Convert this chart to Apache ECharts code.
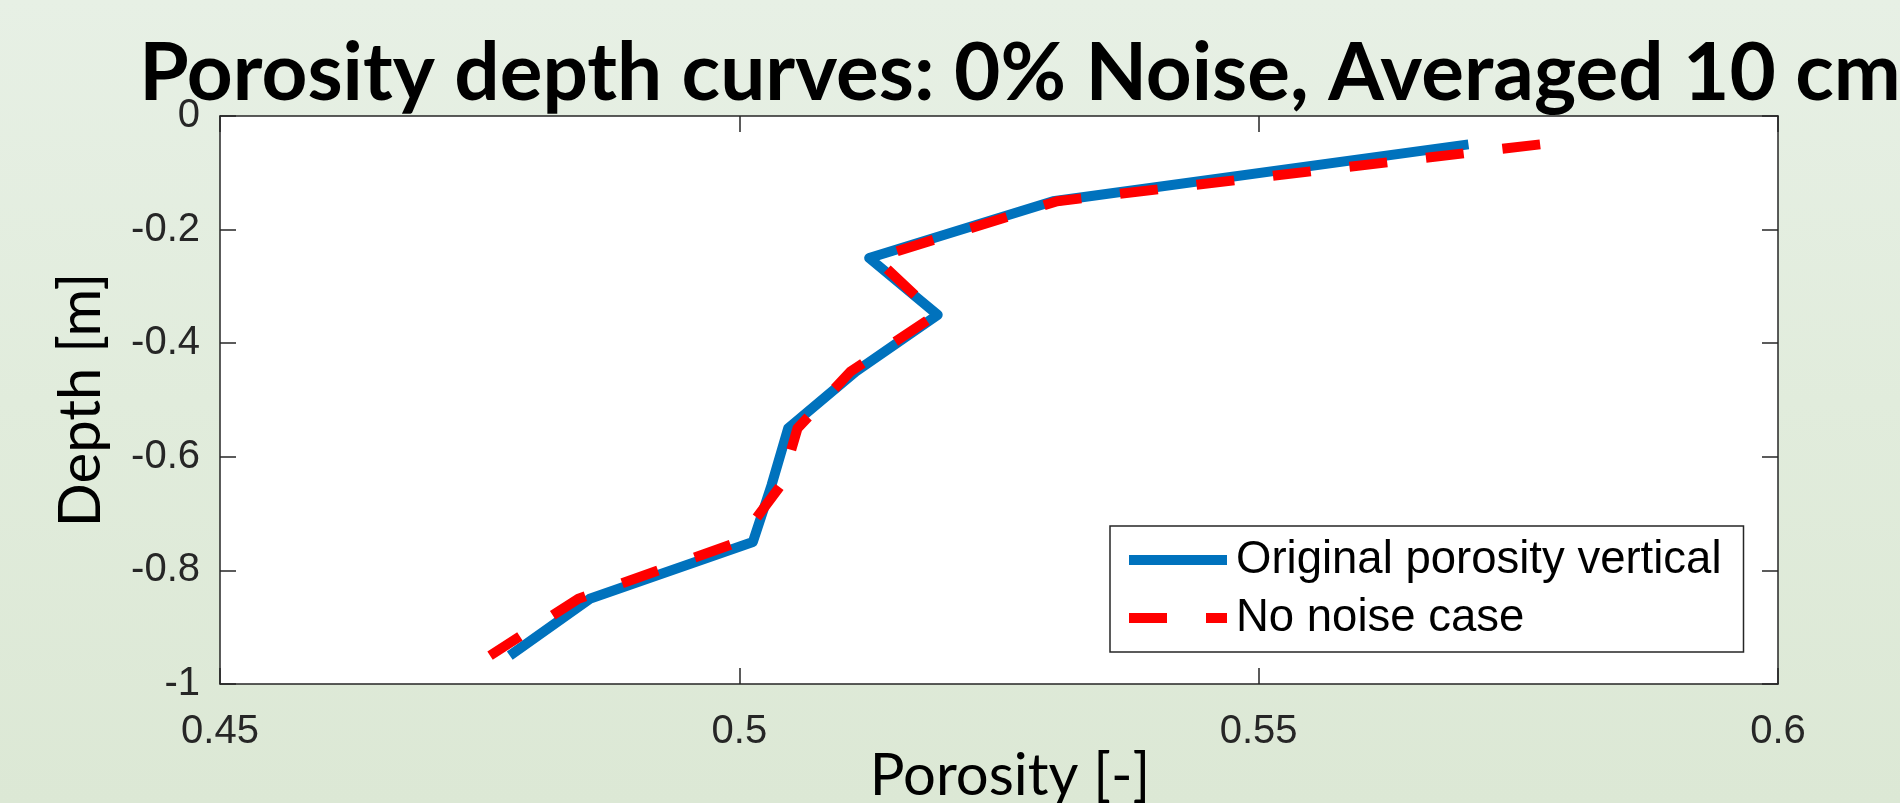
<!DOCTYPE html>
<html>
<head>
<meta charset="utf-8">
<script src="https://cdn.jsdelivr.net/npm/echarts@6/dist/echarts.min.js"></script>
<style>
  html, body { margin: 0; padding: 0; width: 1900px; height: 803px; overflow: hidden;
    background: linear-gradient(to bottom, #e7f0e5 0%, #e1ecdc 50%, #dce8d5 100%); }
  #chart { width: 1900px; height: 803px; }
</style>
</head>
<body>
<div id="chart"></div>
<script>
// ---- Data ----
const titleText = 'Porosity depth curves: 0% Noise, Averaged 10 cm';
const seriesNames = ['Original porosity vertical', 'No noise case'];
const depth = [-0.05, -0.15, -0.25, -0.35, -0.45, -0.55, -0.65, -0.75, -0.85, -0.95];
const originalPorosity = [0.5702, 0.5302, 0.5125, 0.5191, 0.5112, 0.5047, 0.5031, 0.5013, 0.4856, 0.4779];
const noNoisePorosity = [0.5771, 0.5306, 0.5131, 0.5189, 0.5107, 0.5056, 0.5040, 0.4999, 0.4845, 0.4760];
const xTicks = { min: 0.45, max: 0.6, interval: 0.05 };
const yTicks = { min: -1, max: 0, interval: 0.2 };
const xName = 'Porosity [-]';
const yName = 'Depth [m]';

const toPairs = (xs, ys) => xs.map((x, i) => [x, ys[i]]);

const axisColor = '#262626';
const tickFont = 'Liberation Sans, Arial, Helvetica, sans-serif';
const nameFont = 'Lato, Open Sans, sans-serif';
const blue = '#0072BD';
const red = '#FF0000';
const lw = 10;
const dash = [38, 39];

const chart = echarts.init(document.getElementById('chart'), null, { renderer: 'canvas' });

const baseX = {
  type: 'value', min: xTicks.min, max: xTicks.max, interval: xTicks.interval,
  axisLine: { show: true, onZero: false, lineStyle: { color: axisColor, width: 1.5 } },
  axisTick: { show: true, inside: true, length: 16, lineStyle: { color: axisColor, width: 1.5 } },
  splitLine: { show: false }
};
const baseY = {
  type: 'value', min: yTicks.min, max: yTicks.max, interval: yTicks.interval,
  axisLine: { show: true, onZero: false, lineStyle: { color: axisColor, width: 1.5 } },
  axisTick: { show: true, inside: true, length: 16, lineStyle: { color: axisColor, width: 1.5 } },
  splitLine: { show: false }
};

chart.setOption({
  backgroundColor: 'transparent',
  animation: false,
  title: {
    text: titleText,
    left: 1015,
    textAlign: 'center',
    top: 29,
    textStyle: { fontFamily: nameFont, fontWeight: 'bold', fontSize: 80, color: '#000', lineHeight: 80 }
  },
  grid: {
    left: 220, right: 122, top: 116, bottom: 119,
    show: true, backgroundColor: '#ffffff', borderWidth: 0,
    containLabel: false, outerBoundsMode: 'none'
  },
  legend: {
    orient: 'vertical',
    left: 1110, top: 526,
    padding: [5, 22, 5, 14],
    itemGap: 0,
    itemWidth: 98, itemHeight: 14,
    backgroundColor: '#ffffff',
    borderColor: axisColor, borderWidth: 1.5, borderRadius: 0,
    textStyle: { fontFamily: tickFont, fontSize: 45.5, color: '#000', lineHeight: 58, padding: [0, 0, 0, 4] },
    itemStyle: { color: 'rgba(0,0,0,0)', borderWidth: 0, opacity: 0 },
    lineStyle: { width: lw, cap: 'butt' },
    data: [
      { name: seriesNames[0], itemStyle: { color: 'rgba(0,0,0,0)', borderWidth: 0, opacity: 0 },
        lineStyle: { color: blue, width: lw, type: 'solid', cap: 'butt' } },
      { name: seriesNames[1], itemStyle: { color: 'rgba(0,0,0,0)', borderWidth: 0, opacity: 0 },
        lineStyle: { color: red, width: lw, type: dash, cap: 'butt' } }
    ]
  },
  xAxis: [
    Object.assign({}, baseX, {
      position: 'bottom',
      axisLabel: { show: true, fontFamily: tickFont, fontSize: 40, color: axisColor, margin: 28 },
      name: xName, nameLocation: 'middle', nameGap: 63, nameMoveOverlap: false,
      nameTextStyle: { fontFamily: nameFont, fontSize: 58, lineHeight: 58, color: '#000', padding: [0, 0, 0, 22] }
    }),
    Object.assign({}, baseX, { position: 'top', axisLabel: { show: false } })
  ],
  yAxis: [
    Object.assign({}, baseY, {
      position: 'left',
      axisLabel: { show: true, fontFamily: tickFont, fontSize: 40, color: axisColor, margin: 20 },
      name: yName, nameLocation: 'middle', nameGap: 110, nameRotate: 90, nameMoveOverlap: false,
      nameTextStyle: { fontFamily: nameFont, fontSize: 58, lineHeight: 58, color: '#000' }
    }),
    Object.assign({}, baseY, { position: 'right', axisLabel: { show: false } })
  ],
  series: [
    {
      name: seriesNames[0], type: 'line', xAxisIndex: 0, yAxisIndex: 0,
      data: toPairs(originalPorosity, depth),
      symbol: 'none', showSymbol: false, smooth: false, z: 2,
      lineStyle: { color: blue, width: lw, type: 'solid', join: 'round', cap: 'butt' },
      itemStyle: { color: blue }
    },
    {
      name: seriesNames[1], type: 'line', xAxisIndex: 0, yAxisIndex: 0,
      data: toPairs(noNoisePorosity, depth),
      symbol: 'none', showSymbol: false, smooth: false, z: 3,
      lineStyle: { color: red, width: lw, type: dash, join: 'miter', cap: 'butt' },
      itemStyle: { color: red }
    }
  ]
});
</script>
</body>
</html>
